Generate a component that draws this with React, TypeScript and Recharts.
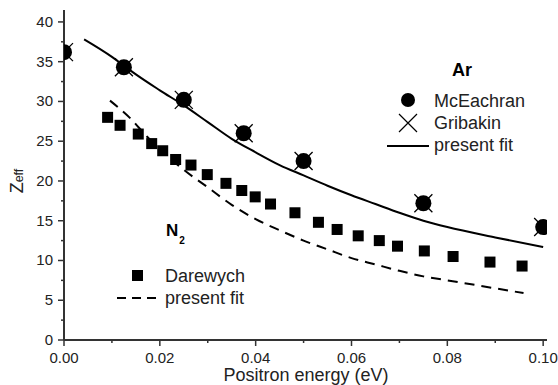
import { ComposedChart, Scatter, Line, XAxis, YAxis } from "recharts";

// Ar data (McEachran / Gribakin)
const arX = [0, 0.0125, 0.025, 0.0375, 0.05, 0.075, 0.1];
const mcEachran = [36.2, 34.3, 30.2, 26.0, 22.5, 17.2, 14.2];
const gribakin = [36.2, 34.3, 30.2, 26.0, 22.5, 17.2, 14.2];

// Ar present fit
const arFitX = [0.0042, 0.01, 0.0125, 0.015, 0.02, 0.025, 0.03, 0.035, 0.04, 0.045, 0.05, 0.055, 0.06, 0.065, 0.07, 0.075, 0.08, 0.09, 0.1];
const arFitY = [37.8, 35.6, 34.5, 33.4, 31.4, 29.5, 27.4, 25.3, 23.6, 22.0, 20.7, 19.4, 18.2, 17.1, 16.0, 15.0, 14.2, 12.9, 11.7];

// N2 Darewych
const darX = [0.0091, 0.0117, 0.0155, 0.0183, 0.0206, 0.0233, 0.0265, 0.0299, 0.0338, 0.0371, 0.0399, 0.0431, 0.0482, 0.0531, 0.057, 0.0614, 0.0658, 0.0696, 0.0752, 0.0812, 0.0889, 0.0956];
const darY = [28.0, 27.0, 25.9, 24.7, 23.8, 22.7, 22.0, 20.8, 19.7, 18.8, 18.0, 17.1, 16.0, 14.8, 13.9, 13.1, 12.5, 11.8, 11.2, 10.5, 9.8, 9.3];

// N2 present fit
const n2FitX = [0.0096, 0.0138, 0.0173, 0.02, 0.025, 0.03, 0.035, 0.04, 0.045, 0.05, 0.055, 0.06, 0.065, 0.07, 0.075, 0.08, 0.085, 0.09, 0.0959];
const n2FitY = [30.1, 27.9, 25.6, 24.0, 21.4, 19.2, 17.0, 15.2, 13.8, 12.5, 11.4, 10.3, 9.5, 8.7, 8.0, 7.5, 7.0, 6.5, 5.9];

const xTicks = [0, 0.01, 0.02, 0.03, 0.04, 0.05, 0.06, 0.07, 0.08, 0.09, 0.1];
const yTicks = [0, 2.5, 5, 7.5, 10, 12.5, 15, 17.5, 20, 22.5, 25, 27.5, 30, 32.5, 35, 37.5, 40];

const FONT = "'Liberation Sans', Arial, sans-serif";
const AXIS = "#333";

const pts = (xs: number[], ys: number[]) => xs.map((x, i) => ({ x, y: ys[i] }));

const XTick = (props: any) => {
  const { x, y, payload } = props;
  const major = Math.round(payload.value * 100) % 2 === 0;
  return (
    <g>
      <line x1={x} x2={x} y1={y} y2={y + (major ? 6 : 3)} stroke={AXIS} strokeWidth={1.5} />
      {major && (
        <text x={x} y={y + 23} textAnchor="middle" fontSize={15} fontFamily={FONT} fill="#222">
          {payload.value.toFixed(2)}
        </text>
      )}
    </g>
  );
};

const YTick = (props: any) => {
  const { x, y, payload } = props;
  const major = payload.value % 5 === 0;
  return (
    <g>
      <line x1={x} x2={x - (major ? 6 : 3)} y1={y} y2={y} stroke={AXIS} strokeWidth={1.5} />
      {major && (
        <text x={x - 11} y={y + 5} textAnchor="end" fontSize={15} fontFamily={FONT} fill="#222">
          {payload.value}
        </text>
      )}
    </g>
  );
};

const Circle = (p: any) => <circle cx={p.cx} cy={p.cy} r={8} fill="#000" />;
const Cross = (p: any) => (
  <path
    d={`M${p.cx - 9},${p.cy - 9}L${p.cx + 9},${p.cy + 9}M${p.cx - 9},${p.cy + 9}L${p.cx + 9},${p.cy - 9}`}
    stroke="#000"
    strokeWidth={1.3}
    fill="none"
  />
);
const Square = (p: any) => <rect x={p.cx - 5.5} y={p.cy - 5.5} width={11} height={11} fill="#000" />;

export default function App() {
  return (
    <div style={{ position: "absolute", left: 0, top: 0, width: 558, height: 385, background: "#fff" }}>
      <ComposedChart width={558} height={385} margin={{ top: 10, right: 11, bottom: 0, left: 0 }}>
        <XAxis
          dataKey="x"
          type="number"
          domain={[0, 0.1008]}
          allowDataOverflow
          ticks={xTicks}
          tick={<XTick />}
          tickLine={false}
          tickSize={0}
          tickMargin={0}
          interval={0}
          height={45}
          axisLine={{ stroke: AXIS, strokeWidth: 2 }}
        />
        <YAxis
          dataKey="y"
          type="number"
          domain={[0, 41.5]}
          allowDataOverflow
          ticks={yTicks}
          tick={<YTick />}
          tickLine={false}
          tickSize={0}
          tickMargin={0}
          interval={0}
          width={64}
          axisLine={{ stroke: AXIS, strokeWidth: 2 }}
        />
        <Line data={pts(arFitX, arFitY)} dataKey="y" type="monotone" stroke="#000" strokeWidth={2} dot={false} isAnimationActive={false} />
        <Line data={pts(n2FitX, n2FitY)} dataKey="y" type="monotone" stroke="#000" strokeWidth={2} strokeDasharray="10 7" dot={false} isAnimationActive={false} />
        <Scatter data={pts(darX, darY)} dataKey="y" shape={Square} isAnimationActive={false} />
        <Scatter data={pts(arX, mcEachran)} dataKey="y" shape={Circle} isAnimationActive={false} />
        <Scatter data={pts(arX, gribakin)} dataKey="y" shape={Cross} isAnimationActive={false} />
      </ComposedChart>
      <svg width={558} height={385} style={{ position: "absolute", left: 0, top: 0, pointerEvents: "none" }}>
        <g fontFamily={FONT} fill="#000">
          <text x={0} y={0} transform="translate(23,181) rotate(-90)" textAnchor="middle" fontSize={18} fill="#222">
            Z<tspan fontSize={12.5} dy={0}>eff</tspan>
          </text>
          <text x={306} y={381} textAnchor="middle" fontSize={18} fill="#222">Positron energy (eV)</text>

          <text x={452} y={76} fontSize={18} fontWeight="bold">Ar</text>
          <circle cx={408} cy={100} r={7} fill="#000" />
          <text x={434} y={107} fontSize={18} fill="#222">McEachran</text>
          <path d="M399,114L417,132M399,132L417,114" stroke="#000" strokeWidth={1.2} />
          <text x={434} y={129} fontSize={18} fill="#222">Gribakin</text>
          <line x1={387} x2={429} y1={146} y2={146} stroke="#000" strokeWidth={2} />
          <text x={434} y={151} fontSize={18} fill="#222">present fit</text>

          <text x={166} y={236} fontSize={17} fontWeight="bold">N<tspan fontSize={10} dx={1} dy={8}>2</tspan></text>
          <rect x={132} y={270} width={11} height={11} fill="#000" />
          <text x={165} y={282} fontSize={18} fill="#222">Darewych</text>
          <line x1={117} x2={157} y1={298} y2={298} stroke="#000" strokeWidth={2} strokeDasharray="9 6" />
          <text x={165} y={304} fontSize={18} fill="#222">present fit</text>
        </g>
      </svg>
    </div>
  );
}
